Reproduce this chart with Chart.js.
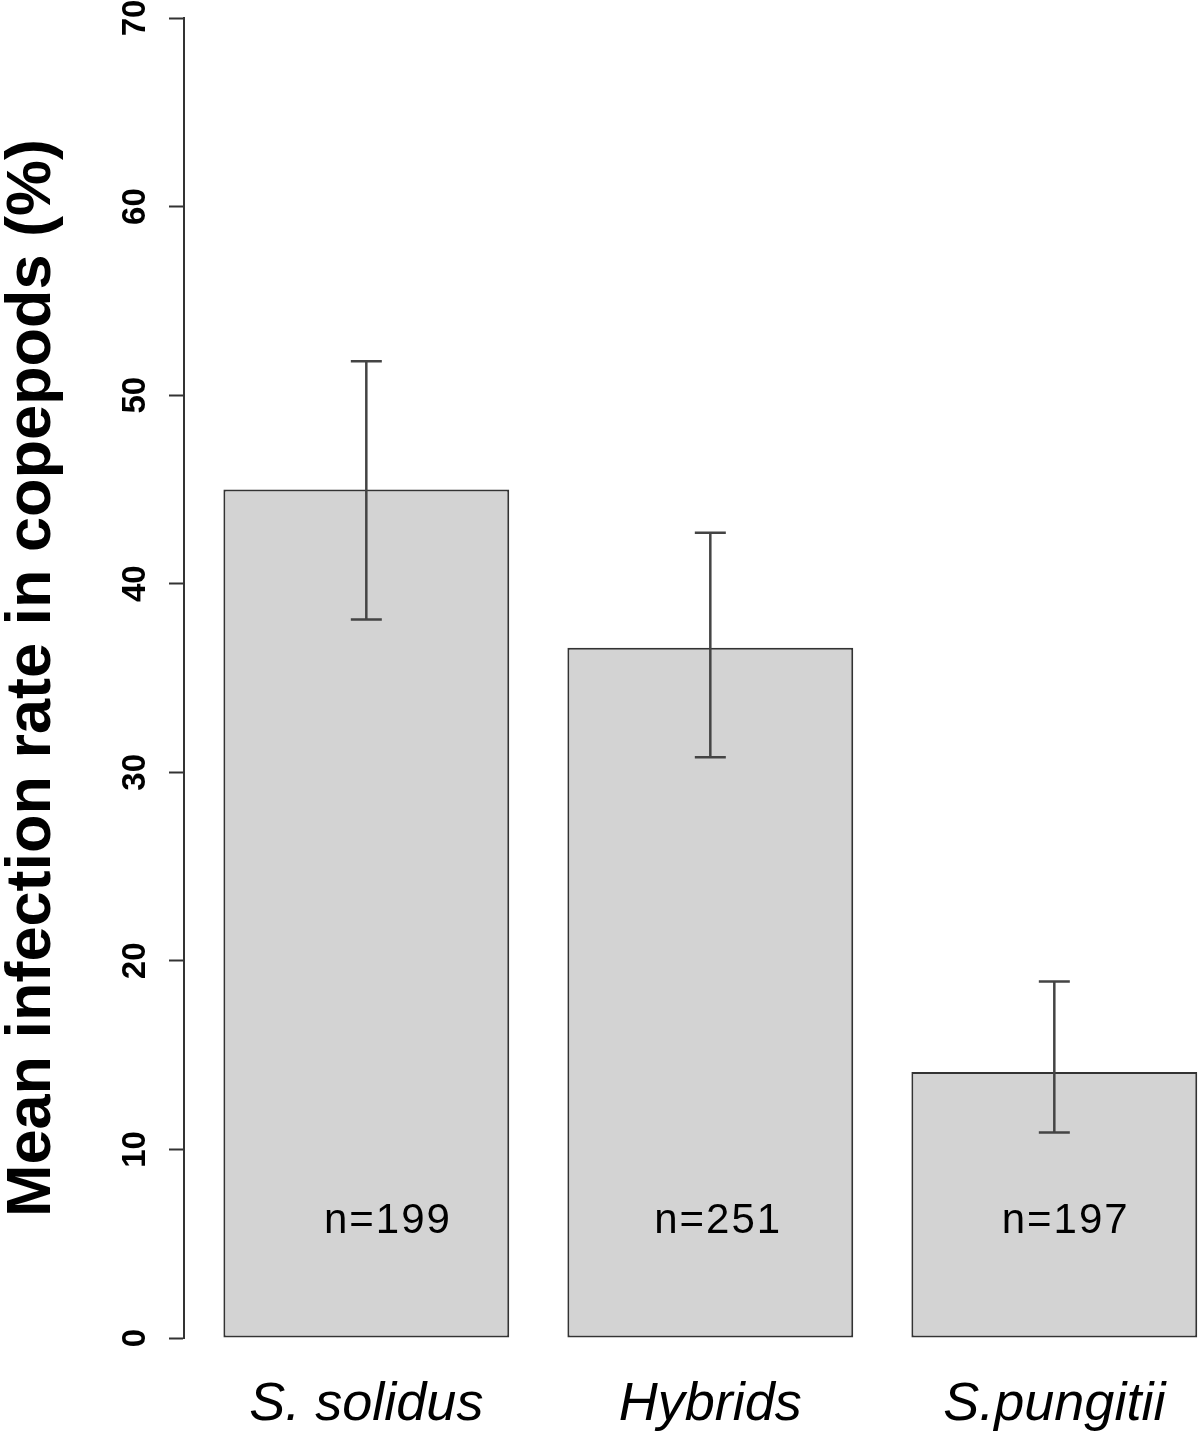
<!DOCTYPE html>
<html>
<head>
<meta charset="utf-8">
<script src="https://cdn.jsdelivr.net/npm/chart.js@4"></script>
<style>
  html, body { margin: 0; padding: 0; background: #fff; }
  canvas { display: block; }
</style>
</head>
<body>
<canvas id="rateChart" width="1200" height="1438"></canvas>
<script>
const categories = ['S. solidus', 'Hybrids', 'S.pungitii'];
const meanRate = [45.0, 36.6, 14.1];
const errUpper = [51.8, 42.7, 18.9];
const errLower = [38.1, 30.8, 10.9];
const sampleLabels = ['n=199', 'n=251', 'n=197'];
const sampleLabelX = [1.06, 2.02, 3.03];
const sampleLabelY = 6.2;
const yTicks = [0, 10, 20, 30, 40, 50, 60, 70];

// bars sit at x = 1, 2, 3 on a linear scale so the plot can run off the right edge like the original
const barPoints = meanRate.map((v, i) => ({ x: i + 1, y: v }));

// error bars and the n= labels, placed with the chart's own scales
const extrasPlugin = {
    id: 'extras',
    afterDatasetsDraw(chart) {
        const { ctx, scales: { x, y } } = chart;
        ctx.save();
        ctx.strokeStyle = '#444';
        ctx.lineWidth = 2.5;
        errUpper.forEach((hi, i) => {
            const px = x.getPixelForValue(i + 1);
            const yHi = y.getPixelForValue(hi);
            const yLo = y.getPixelForValue(errLower[i]);
            ctx.beginPath();
            ctx.moveTo(px, yHi);
            ctx.lineTo(px, yLo);
            ctx.moveTo(px - 15.5, yHi);
            ctx.lineTo(px + 15.5, yHi);
            ctx.moveTo(px - 15.5, yLo);
            ctx.lineTo(px + 15.5, yLo);
            ctx.stroke();
        });
        ctx.fillStyle = '#000';
        ctx.font = '42px "Liberation Sans", Arial, sans-serif';
        ctx.letterSpacing = '2px';
        ctx.textAlign = 'center';
        ctx.textBaseline = 'middle';
        sampleLabels.forEach((t, i) => {
            ctx.fillText(t, x.getPixelForValue(sampleLabelX[i]) + 1, y.getPixelForValue(sampleLabelY));
        });
        ctx.restore();
    }
};

new Chart(document.getElementById('rateChart'), {
    type: 'bar',
    data: {
        datasets: [{
            data: barPoints,
            backgroundColor: '#d3d3d3',
            borderColor: '#333',
            borderWidth: 2,
            borderSkipped: false,
            categoryPercentage: 1,
            barPercentage: 0.831
        }]
    },
    options: {
        responsive: false,
        animation: false,
        layout: { padding: { top: 18, left: 0, right: 0, bottom: 0 } },
        plugins: {
            legend: { display: false },
            tooltip: { enabled: false }
        },
        scales: {
            x: {
                type: 'linear',
                offset: false,
                min: 0.470,
                max: 3.4235,
                grid: { display: false, drawTicks: false, offset: false },
                border: { display: false },
                afterBuildTicks: (scale) => {
                    scale.ticks = categories.map((c, i) => ({ value: i + 1 }));
                },
                afterFit: (scale) => {
                    scale.height = 100;
                    scale.paddingLeft = 0;
                    scale.paddingRight = 0;
                },
                ticks: {
                    autoSkip: false,
                    maxRotation: 0,
                    padding: 35,
                    color: '#000',
                    font: { family: '"Liberation Sans", Arial, sans-serif', size: 54, style: 'italic' },
                    callback: (v) => categories[Math.round(v) - 1] || ''
                }
            },
            y: {
                type: 'linear',
                min: 0,
                max: 70,
                afterBuildTicks: (scale) => {
                    scale.ticks = yTicks.map(v => ({ value: v }));
                },
                afterFit: (scale) => {
                    scale.width = 184;
                    scale.paddingTop = 0;
                    scale.paddingBottom = 0;
                },
                grid: {
                    drawOnChartArea: false,
                    drawTicks: true,
                    tickLength: 15,
                    tickWidth: 2,
                    tickColor: '#333'
                },
                border: { display: true, color: '#333', width: 2 },
                ticks: {
                    minRotation: 90,
                    maxRotation: 90,
                    crossAlign: 'center',
                    padding: 15,
                    color: '#000',
                    font: { family: '"Liberation Sans", Arial, sans-serif', size: 33, weight: 'bold' }
                },
                title: {
                    display: true,
                    text: 'Mean infection rate in copepods (%)',
                    color: '#000',
                    padding: 0,
                    font: { family: '"Liberation Sans", Arial, sans-serif', size: 63, weight: 'bold', lineHeight: 1.03 }
                }
            }
        }
    },
    plugins: [extrasPlugin]
});
</script>
</body>
</html>
